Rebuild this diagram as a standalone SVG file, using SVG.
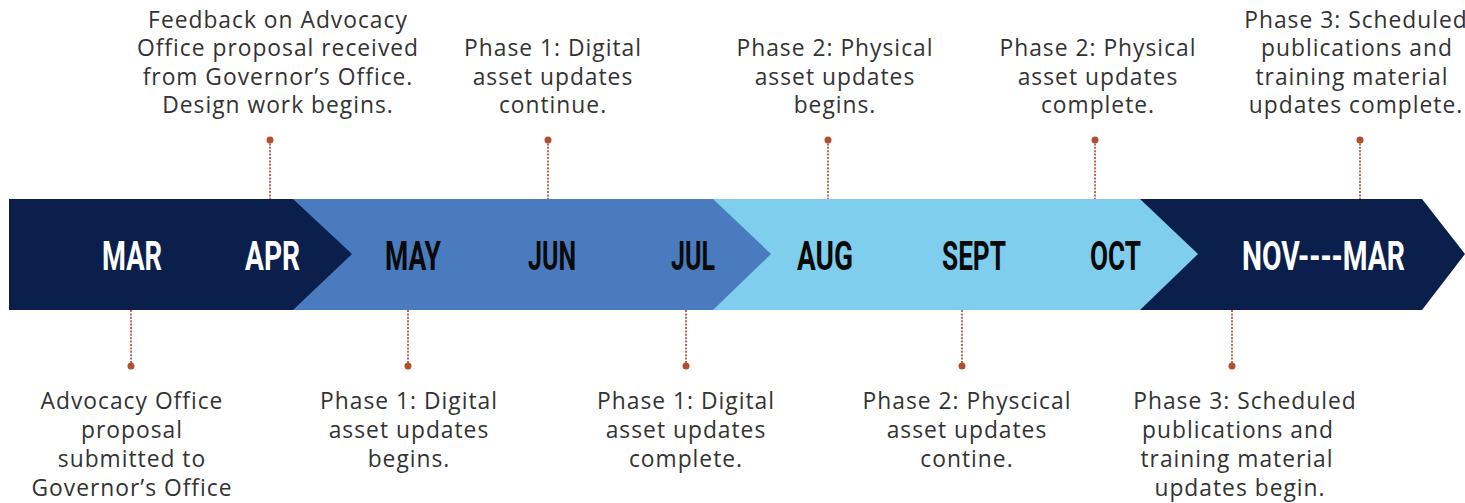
<svg xmlns="http://www.w3.org/2000/svg" width="1465" height="503" viewBox="0 0 1465 503">
<style>
.lbl{font-family:"Open Sans","Liberation Sans",sans-serif;font-size:22.8px;letter-spacing:1px;fill:#333;text-anchor:middle}
.mon{font-family:"Liberation Sans Narrow","Roboto","Liberation Sans",sans-serif;font-weight:700;font-size:40px;text-anchor:start}
.w{fill:#ffffff}
.k{fill:#0a0a0a}
.con{stroke:#a9482b;stroke-width:1.6;stroke-dasharray:2 1.4;fill:none}
.dot{fill:#b0502e}
</style>
<rect width="1465" height="503" fill="#ffffff"/>
<g id="band">
<g id="seg-nov-mar"><polygon points="1130,199 1422,199 1465,254 1422,310 1130,310" fill="#0b1f4d"/></g>
<g id="seg-aug-oct"><polygon points="705,199 1140,199 1198,254 1140,310 705,310" fill="#80ceee"/></g>
<g id="seg-may-jul"><polygon points="285,199 713,199 771,254 713,310 285,310" fill="#4a7bbf"/></g>
<g id="seg-mar-apr"><polygon points="9,199 293,199 352,254 293,310 9,310" fill="#0b1f4d"/></g>
</g>
<g id="months">
<text class="mon w" x="102" y="270" textLength="60" lengthAdjust="spacingAndGlyphs">MAR</text>
<text class="mon w" x="245" y="270" textLength="55" lengthAdjust="spacingAndGlyphs">APR</text>
<text class="mon k" x="385" y="270" textLength="56" lengthAdjust="spacingAndGlyphs">MAY</text>
<text class="mon k" x="528" y="270" textLength="48" lengthAdjust="spacingAndGlyphs">JUN</text>
<text class="mon k" x="671" y="270" textLength="44" lengthAdjust="spacingAndGlyphs">JUL</text>
<text class="mon k" x="797" y="270" textLength="56" lengthAdjust="spacingAndGlyphs">AUG</text>
<text class="mon k" x="942" y="270" textLength="64" lengthAdjust="spacingAndGlyphs">SEPT</text>
<text class="mon k" x="1090" y="270" textLength="51" lengthAdjust="spacingAndGlyphs">OCT</text>
<text class="mon w" transform="translate(1242,270) scale(0.76,1)" x="0" y="0" textLength="214.5" lengthAdjust="spacingAndGlyphs">NOV----MAR</text>
</g>
<g id="connectors">
<line class="con" x1="131" y1="310" x2="131" y2="366"/><circle class="dot" cx="131" cy="366" r="3.5"/>
<line class="con" x1="270" y1="140" x2="270" y2="199"/><circle class="dot" cx="270" cy="140" r="3.5"/>
<line class="con" x1="408" y1="310" x2="408" y2="366"/><circle class="dot" cx="408" cy="366" r="3.5"/>
<line class="con" x1="548" y1="140" x2="548" y2="199"/><circle class="dot" cx="548" cy="140" r="3.5"/>
<line class="con" x1="686" y1="310" x2="686" y2="366"/><circle class="dot" cx="686" cy="366" r="3.5"/>
<line class="con" x1="828" y1="140" x2="828" y2="199"/><circle class="dot" cx="828" cy="140" r="3.5"/>
<line class="con" x1="962" y1="310" x2="962" y2="366"/><circle class="dot" cx="962" cy="366" r="3.5"/>
<line class="con" x1="1095" y1="140" x2="1095" y2="199"/><circle class="dot" cx="1095" cy="140" r="3.5"/>
<line class="con" x1="1232" y1="310" x2="1232" y2="366"/><circle class="dot" cx="1232" cy="366" r="3.5"/>
<line class="con" x1="1360" y1="140" x2="1360" y2="199"/><circle class="dot" cx="1360" cy="140" r="3.5"/>
</g>
<g id="note-apr">
<text class="lbl" x="278" y="28">Feedback on Advocacy</text>
<text class="lbl" x="278" y="56">Office proposal received</text>
<text class="lbl" x="278" y="85">from Governor’s Office.</text>
<text class="lbl" x="278" y="113">Design work begins.</text>
</g>
<g id="note-jun">
<text class="lbl" x="553" y="56">Phase 1: Digital</text>
<text class="lbl" x="553" y="85">asset updates</text>
<text class="lbl" x="553" y="113">continue.</text>
</g>
<g id="note-aug">
<text class="lbl" x="835" y="56">Phase 2: Physical</text>
<text class="lbl" x="835" y="85">asset updates</text>
<text class="lbl" x="835" y="113">begins.</text>
</g>
<g id="note-oct">
<text class="lbl" x="1098" y="56">Phase 2: Physical</text>
<text class="lbl" x="1098" y="85">asset updates</text>
<text class="lbl" x="1098" y="113">complete.</text>
</g>
<g id="note-novmar-top">
<text class="lbl" x="1356" y="28">Phase 3: Scheduled</text>
<text class="lbl" x="1357" y="56">publications and</text>
<text class="lbl" x="1352" y="85">training material</text>
<text class="lbl" x="1356" y="113">updates complete.</text>
</g>
<g id="note-mar">
<text class="lbl" x="132" y="409">Advocacy Office</text>
<text class="lbl" x="132" y="438">proposal</text>
<text class="lbl" x="132" y="467">submitted to</text>
<text class="lbl" x="132" y="496">Governor’s Office</text>
</g>
<g id="note-may">
<text class="lbl" x="409" y="409">Phase 1: Digital</text>
<text class="lbl" x="409" y="438">asset updates</text>
<text class="lbl" x="409" y="467">begins.</text>
</g>
<g id="note-jul">
<text class="lbl" x="686" y="409">Phase 1: Digital</text>
<text class="lbl" x="686" y="438">asset updates</text>
<text class="lbl" x="686" y="467">complete.</text>
</g>
<g id="note-sept">
<text class="lbl" x="967" y="409">Phase 2: Physcical</text>
<text class="lbl" x="967" y="438">asset updates</text>
<text class="lbl" x="967" y="467">contine.</text>
</g>
<g id="note-nov">
<text class="lbl" x="1245" y="409">Phase 3: Scheduled</text>
<text class="lbl" x="1238" y="438">publications and</text>
<text class="lbl" x="1237" y="467">training material</text>
<text class="lbl" x="1240" y="496">updates begin.</text>
</g>
</svg>
